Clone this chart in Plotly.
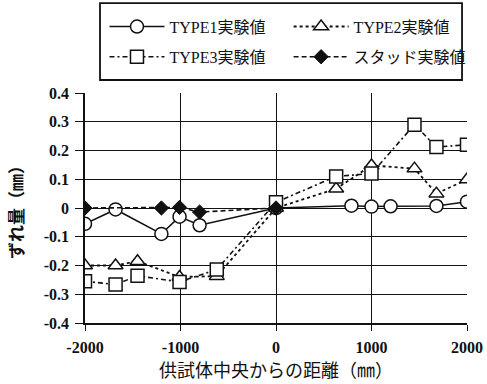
import plotly.graph_objects as go

# Distance from specimen centre (mm) and measured slip (mm) for each series
type1_x = [-2000, -1680, -1200, -1010, -800, 0, 790, 1000, 1200, 1680, 2000]
type1_y = [-0.055, -0.005, -0.09, -0.03, -0.06, 0.0, 0.008, 0.005, 0.006, 0.007, 0.022]

type2_x = [-2000, -1680, -1450, -1010, -620, 0, 630, 1000, 1450, 1680, 2000]
type2_y = [-0.20, -0.20, -0.185, -0.24, -0.237, 0.0, 0.067, 0.148, 0.137, 0.05, 0.099]

type3_x = [-2000, -1680, -1450, -1010, -620, 0, 630, 1000, 1450, 1680, 2000]
type3_y = [-0.255, -0.266, -0.236, -0.257, -0.214, 0.02, 0.11, 0.12, 0.29, 0.212, 0.22]

stud_x = [-2000, -1200, -1010, -800, 0]
stud_y = [0.0, 0.0, 0.002, -0.014, 0.0]

x_ticks = [-2000, -1000, 0, 1000, 2000]
x_tick_text = ["-2000", "-1000", "0", "1000", "2000"]
y_ticks = [0.4, 0.3, 0.2, 0.1, 0, -0.1, -0.2, -0.3, -0.4]
y_tick_text = ["0.4", "0.3", "0.2", "0.1", "0", "-0.1", "-0.2", "-0.3", "-0.4"]

names = ["TYPE1実験値", "TYPE2実験値", "TYPE3実験値", "スタッド実験値"]

serif = "Liberation Serif, Noto Sans CJK JP, serif"
ink = "#111111"

fig = go.Figure()

fig.add_trace(go.Scatter(
    x=type1_x, y=type1_y, name=names[0], mode="lines+markers", legend="legend",
    showlegend=True,
    line=dict(color=ink, width=1.6, dash="solid"),
    marker=dict(symbol="circle", size=13, color="white", line=dict(color=ink, width=1.5)),
))
fig.add_trace(go.Scatter(
    x=type2_x, y=type2_y, name=names[1], mode="lines+markers", legend="legend2",
    showlegend=True,
    line=dict(color=ink, width=1.8, dash="dot"),
    marker=dict(symbol="triangle-up", size=13, color="white", line=dict(color=ink, width=1.5)),
))
fig.add_trace(go.Scatter(
    x=type3_x, y=type3_y, name=names[2], mode="lines+markers", legend="legend3",
    showlegend=True,
    line=dict(color=ink, width=1.6, dash="5px,3px,2px,3px"),
    marker=dict(symbol="square", size=13, color="white", line=dict(color=ink, width=1.5)),
))
fig.add_trace(go.Scatter(
    x=stud_x, y=stud_y, name=names[3], mode="lines+markers", legend="legend4",
    showlegend=True,
    line=dict(color=ink, width=1.6, dash="5px,3px"),
    marker=dict(symbol="diamond", size=11, color=ink, line=dict(color=ink, width=1)),
))

# one legend per entry, laid out as a 2x2 grid inside a framed box
legend_common = dict(
    orientation="v", xanchor="left", yanchor="top",
    font=dict(family=serif, size=16, color=ink),
    bgcolor="rgba(0,0,0,0)", borderwidth=0, itemwidth=55,
)
col_x = [0.051, 0.533]
row_y = [1.3626, 1.231]

fig.update_layout(
    width=487, height=384,
    margin=dict(l=85, r=20, t=93, b=61, autoexpand=False),
    paper_bgcolor="white", plot_bgcolor="white",
    font=dict(family=serif, color=ink),
    showlegend=True,
    legend=dict(x=col_x[0], y=row_y[0], **legend_common),
    legend2=dict(x=col_x[1], y=row_y[0], **legend_common),
    legend3=dict(x=col_x[0], y=row_y[1], **legend_common),
    legend4=dict(x=col_x[1], y=row_y[1], **legend_common),
    shapes=[dict(
        type="rect", xref="paper", yref="paper",
        x0=0.0393, x1=0.987, y0=1.0565, y1=1.391,
        line=dict(color=ink, width=1.8), fillcolor="rgba(0,0,0,0)", layer="above",
    )],
    xaxis=dict(
        range=[-2000, 2000], tickvals=x_ticks, ticktext=x_tick_text,
        automargin=False,
        showgrid=True, gridcolor=ink, gridwidth=1.3,
        zeroline=False, showline=True, linecolor=ink, linewidth=1.5,
        ticks="outside", ticklen=6, tickwidth=1.3, tickcolor=ink,
        ticklabelstandoff=3,
        tickfont=dict(family=serif, size=16, color=ink, weight="bold"),
        title=dict(text="供試体中央からの距離（㎜）", standoff=4,
                   font=dict(family="Noto Sans CJK JP", size=18, color=ink)),
    ),
    yaxis=dict(
        range=[-0.4, 0.4], tickvals=y_ticks, ticktext=y_tick_text,
        automargin=False,
        showgrid=True, gridcolor=ink, gridwidth=1.3,
        zeroline=False, showline=True, linecolor=ink, linewidth=1.5,
        ticks="outside", ticklen=8, tickwidth=1.3, tickcolor=ink,
        ticklabelstandoff=3,
        tickfont=dict(family=serif, size=16, color=ink, weight="bold"),
        title=dict(text="ずれ量（㎜）", standoff=16,
                   font=dict(family="Noto Sans CJK JP", size=17, color=ink, weight="bold")),
    ),
)

fig.write_html("out.html")
